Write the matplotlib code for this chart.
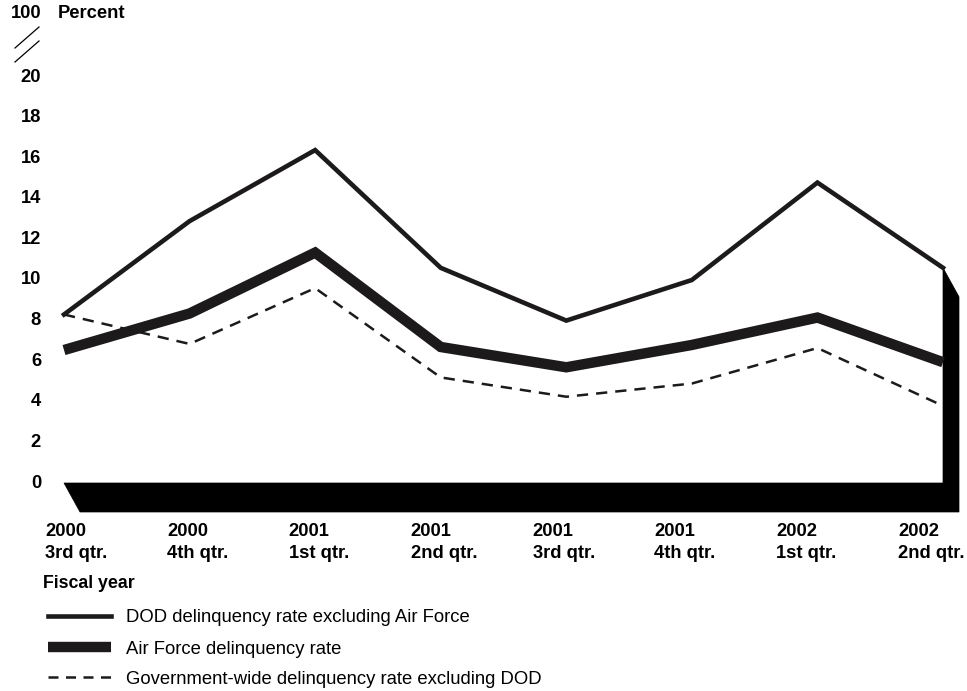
import matplotlib
matplotlib.use("Agg")
import matplotlib.pyplot as plt
from matplotlib.lines import Line2D
from matplotlib.patches import Polygon

# ---- data ----
years = ["2000", "2000", "2001", "2001", "2001", "2001", "2002", "2002"]
quarters = ["3rd qtr.", "4th qtr.", "1st qtr.", "2nd qtr.", "3rd qtr.", "4th qtr.", "1st qtr.", "2nd qtr."]
dod_excl_af = [8.3, 12.9, 16.4, 10.6, 8.0, 10.0, 14.8, 10.6]
air_force = [6.55, 8.35, 11.35, 6.7, 5.7, 6.8, 8.15, 5.95]
gov_excl_dod = [8.3, 6.85, 9.6, 5.2, 4.25, 4.9, 6.65, 3.8]
yticks = [0, 2, 4, 6, 8, 10, 12, 14, 16, 18, 20]
series_labels = ["DOD delinquency rate excluding Air Force",
                 "Air Force delinquency rate",
                 "Government-wide delinquency rate excluding DOD"]

W, H = 967, 691
plt.rcParams['font.family'] = ['Liberation Sans', 'DejaVu Sans']
fig = plt.figure(figsize=(W / 100, H / 100), dpi=100)

def fx(px):
    return px / W

def fy(py):
    return 1 - py / H

INK = '#1c1a1a'
FS = 13.2

# axes: x index 0 at px 64, 7 at px 943 ; y 0 at px 483, 20 at px 77
ax = fig.add_axes([fx(64), fy(483), (943 - 64) / W, (483 - 77) / H])
ax.set_xlim(0, 7)
ax.set_ylim(0, 20)
ax.axis('off')

x = list(range(len(years)))
n = len(x) - 1

# 3D black base / right wall
ddx = 16 / (879 / 7)
ddy = -29 / (406 / 20)
top_right = dod_excl_af[-1]
poly = Polygon([(0, 0), (n, 0), (n, top_right), (n + ddx, top_right + ddy),
                (n + ddx, ddy), (ddx, ddy)], closed=True,
               facecolor='black', edgecolor='black', lw=0.5, clip_on=False, zorder=1)
ax.add_patch(poly)

ax.plot(x, dod_excl_af, color=INK, lw=3.3, solid_joinstyle='miter', clip_on=False, zorder=3)
ax.plot(x, air_force, color=INK, lw=7.5, solid_joinstyle='miter', solid_capstyle='butt', clip_on=False, zorder=3)
ax.plot(x, gov_excl_dod, color=INK, lw=1.8, dashes=(4.5, 3.2), clip_on=False, zorder=3)

# y tick labels
for v in yticks:
    py = 483 - v * (406 / 20)
    fig.text(fx(41), fy(py), str(v), fontsize=FS, fontweight='bold', ha='right', va='center')

fig.text(fx(42), fy(14), "100", fontsize=FS, fontweight='bold', ha='right', va='center')
fig.text(fx(58), fy(14), "Percent", fontsize=FS, fontweight='bold', ha='left', va='center')
# axis-break marks
fig.add_artist(Line2D([fx(15), fx(39)], [fy(48), fy(27)], color='black', lw=0.9))
fig.add_artist(Line2D([fx(15), fx(39)], [fy(62), fy(41)], color='black', lw=0.9))

# x labels
for i, (yr, q) in enumerate(zip(years, quarters)):
    px = 45 + i * 121.9
    fig.text(fx(px), fy(531), yr, fontsize=FS, fontweight='bold', ha='left', va='center')
    fig.text(fx(px), fy(553), q, fontsize=FS, fontweight='bold', ha='left', va='center')
fig.text(fx(43), fy(583), "Fiscal year", fontsize=12.8, fontweight='bold', ha='left', va='center')

# legend
styles = [dict(lw=3.3), dict(lw=7.5, solid_capstyle='butt'), dict(lw=1.8, dashes=(4, 3))]
ys = [616, 647, 677]
for lab, st, py in zip(series_labels, styles, ys):
    fig.add_artist(Line2D([fx(48), fx(111)], [fy(py), fy(py)], color=INK, **st))
    fig.text(fx(126), fy(py + 2), lab, fontsize=13.3, ha='left', va='center')

fig.savefig("out.png", dpi=100, facecolor='white')
